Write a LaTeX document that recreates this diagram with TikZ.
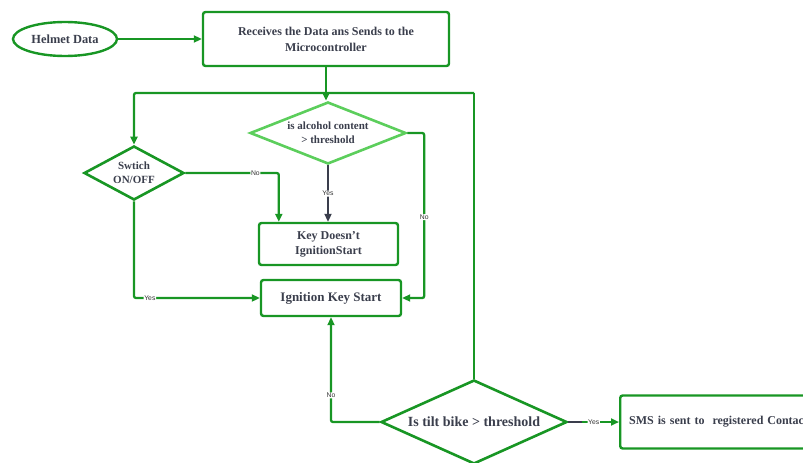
\documentclass[tikz,border=0pt]{standalone}
\usepackage{fontspec}
\setmainfont{Liberation Serif}
\newfontfamily\lblfont{Liberation Sans}
\usetikzlibrary{positioning}
\usetikzlibrary{shapes,arrows.meta}
\definecolor{flowgreen}{RGB}{24,150,36}
\definecolor{litegreen}{RGB}{92,206,92}
\definecolor{txtgray}{RGB}{58,62,76}

\begin{document}
\begin{tikzpicture}[x=1pt,y=-1pt,
every node/.style={text=txtgray,font=\bfseries,align=center},
box/.style={draw=flowgreen,line width=2.4pt,rounded corners=2.5pt,shape=rectangle},
decide/.style={draw=flowgreen,line width=2.6pt,shape=diamond,inner sep=0pt},
link/.style={draw=flowgreen,line width=2.3pt,rounded corners=2pt,-{Triangle[length=8pt,width=7pt]}},
lbl/.style={font=\lblfont\fontsize{6.8}{7}\selectfont,text=black!80,fill=white,inner sep=0.6pt}]
\useasboundingbox (0,0) rectangle (803,463);
\path
(65,39) node[draw=flowgreen,line width=2.4pt,ellipse,minimum width=104,minimum height=34,inner sep=0pt,
  font=\bfseries\fontsize{12.4}{15}\selectfont](helmet){Helmet Data}
(326,39) node[box,minimum width=246,minimum height=54,font=\bfseries\fontsize{12}{16}\selectfont](recv)
  {Receives the Data ans Sends to the\\Microcontroller}
(328,133) node[decide,draw=litegreen,aspect=2.5,minimum width=156,minimum height=62,
  font=\bfseries\fontsize{11}{14}\selectfont](alcohol){is alcohol content\\> threshold}
(134,173) node[decide,aspect=1.85,minimum width=100,minimum height=54,
  font=\bfseries\fontsize{11}{14}\selectfont](switch){Swtich\\ON/OFF}
(328.5,244) node[box,minimum width=139,minimum height=42,font=\bfseries\fontsize{12}{15}\selectfont](nokey)
  {Key Doesn{\char"0027}t\\IgnitionStart}
(331,298) node[box,minimum width=140,minimum height=36,font=\bfseries\fontsize{13}{15}\selectfont](ignite)
  {Ignition Key Start}
(474,422) node[decide,aspect=2.2,minimum width=186,minimum height=84,
  font=\bfseries\fontsize{14}{16}\selectfont](tilt){Is tilt bike > threshold}
(619,422) node[box,anchor=west,minimum width=230,minimum height=53,text width=212,align=left,
  font=\bfseries\fontsize{12}{14}\selectfont](sms){SMS is sent to\ \ registered Contact};
\coordinate (loop) at (474,93);

\draw[link] (helmet.east) -- (helmet.east -| recv.west);
\draw[link] (recv.south) -- (recv.south |- alcohol.north);
\draw[link,-] (tilt.north) -- (loop);
\draw[link] (loop) -| (switch.north);
\draw[link] (switch.east) -| ([xshift=21pt]nokey.north west) node[lbl,pos=0.375]{No};
\draw[link,draw=txtgray] (alcohol.south) -- (alcohol.south |- nokey.north) node[lbl,midway]{Yes};
\draw[link] (alcohol.east) -| ([xshift=22pt]ignite.east) node[lbl,pos=0.755]{No} -- (ignite.east);
\draw[link] (switch.south) |- (ignite.west) node[lbl,pos=0.563]{Yes};
\draw[link] (tilt.west) -| (ignite.south) node[lbl,pos=0.627]{No};
\draw[link] (tilt.east) -- (sms.west) node[lbl,pos=0.5]{Yes};
\draw[draw=txtgray,line width=2.3pt] (tilt.east) -- ++(14,0);
\end{tikzpicture}
\end{document}
